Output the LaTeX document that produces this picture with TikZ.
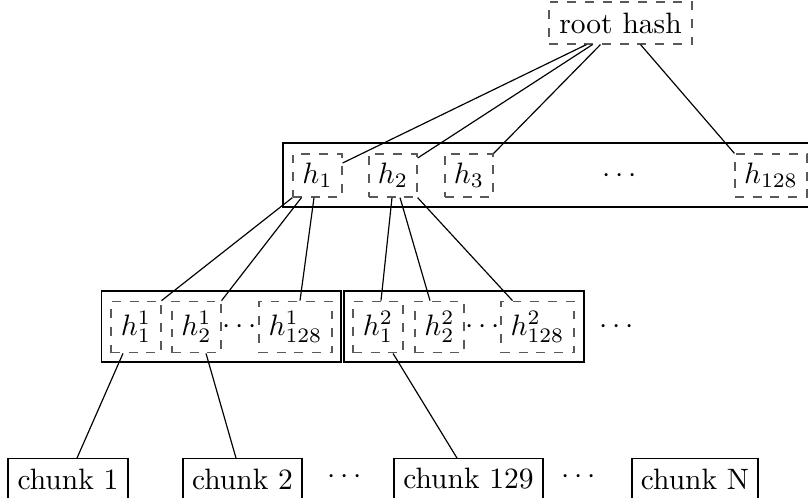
\documentclass[tikz,border=0pt]{standalone}
\usetikzlibrary{calc}
\begin{document}
\begin{tikzpicture}[x=0.3390pt,y=-0.3390pt,
  hashbox/.style={draw=black!65,dashed,inner sep=0pt,anchor=center},
  solidbox/.style={draw,inner sep=0pt,anchor=center},
  plain/.style={inner sep=0pt,anchor=center},
  link/.style={draw}]
\useasboundingbox (0,0) rectangle (808,497);
\clip (0,0) rectangle (808,497);
% root
\node[hashbox,minimum width=48.5pt,minimum height=14.2pt] (root) at (620.5,23) {root hash};
% second level
\node[solidbox,minimum width=180.3pt,minimum height=21.7pt] (lvl1) at (549,175) {};
\node[hashbox,minimum width=16.6pt,minimum height=14.6pt] (h1) at (317.5,175.5) {$h_1$};
\node[hashbox,minimum width=16.3pt,minimum height=14.6pt] (h2) at (393,175.5) {$h_2$};
\node[hashbox,minimum width=16.3pt,minimum height=14.6pt] (h3) at (469,175.5) {$h_3$};
\node[plain] (d1) at (620,175.5) {$\cdots$};
\node[hashbox,minimum width=24.4pt,minimum height=14.6pt] (h128) at (771,175.5) {$h_{128}$};
% third level
\node[solidbox,minimum width=81.1pt,minimum height=24.1pt] (grpA) at (221.3,326.5) {};
\node[solidbox,minimum width=81.4pt,minimum height=24.1pt] (grpB) at (464,326.5) {};
\node[hashbox,minimum width=16.9pt,minimum height=17.5pt] (ha1) at (136,327) {$h^1_1$};
\node[hashbox,minimum width=16.6pt,minimum height=17.5pt] (ha2) at (196.5,327) {$h^1_2$};
\node[plain] (da) at (240,327) {$\cdots$};
\node[hashbox,minimum width=24.7pt,minimum height=17.5pt] (ha128) at (295.5,327) {$h^1_{128}$};
\node[hashbox,minimum width=16.9pt,minimum height=17.5pt] (hb1) at (378,327) {$h^2_1$};
\node[hashbox,minimum width=16.6pt,minimum height=17.5pt] (hb2) at (439.5,327) {$h^2_2$};
\node[plain] (db) at (482.5,327) {$\cdots$};
\node[hashbox,minimum width=24.7pt,minimum height=17.5pt] (hb128) at (537.5,327) {$h^2_{128}$};
\node[plain] (d2) at (617,327) {$\cdots$};
% chunks
\node[solidbox,minimum width=40.7pt,minimum height=13.8pt] (c1) at (68,479) {chunk 1};
\node[solidbox,minimum width=40.3pt,minimum height=13.8pt] (c2) at (242.5,479) {chunk 2};
\node[plain] (d3) at (345,477) {$\cdots$};
\node[solidbox,minimum width=50.5pt,minimum height=13.8pt] (c129) at (468.5,479) {chunk 129};
\node[plain] (d4) at (579,477) {$\cdots$};
\node[solidbox,minimum width=42.7pt,minimum height=13.8pt] (cN) at (695,479) {chunk N};
% connectors from root
\draw[link] ($(root.south)+(-34,0)$) -- ($(h1.east)+(0,-12.5)$);
\draw[link] ($(root.south)+(-28,0)$) -- ($(h2.east)+(0,-17.5)$);
\draw[link] ($(root.south)+(-20,0)$) -- (h3.north east);
\draw[link] ($(root.south)+(20,0)$) -- (h128.north west);
% from h1
\draw[link] (h1.south west) -- (ha1.north east);
\draw[link] ($(h1.south west)+(9,0)$) -- (ha2.north east);
\draw[link] ($(h1.south)+(-3.5,0)$) -- ($(ha128.north)+(4.5,0)$);
% from h2
\draw[link] ($(h2.south)+(-1,0)$) -- ($(hb1.north)+(3,0)$);
\draw[link] ($(h2.south)+(7,0)$) -- ($(hb2.north)+(-9.5,0)$);
\draw[link] (h2.south east) -- ($(hb128.north west)+(12,0)$);
% to chunks
\draw[link] ($(ha1.south)+(-13,0)$) -- ($(c1.north)+(9,0)$);
\draw[link] ($(ha2.south)+(9.5,0)$) -- ($(c2.north)+(-6.5,0)$);
\draw[link] ($(hb1.south)+(15,0)$) -- ($(c129.north)+(-11.5,0)$);
\end{tikzpicture}
\end{document}
